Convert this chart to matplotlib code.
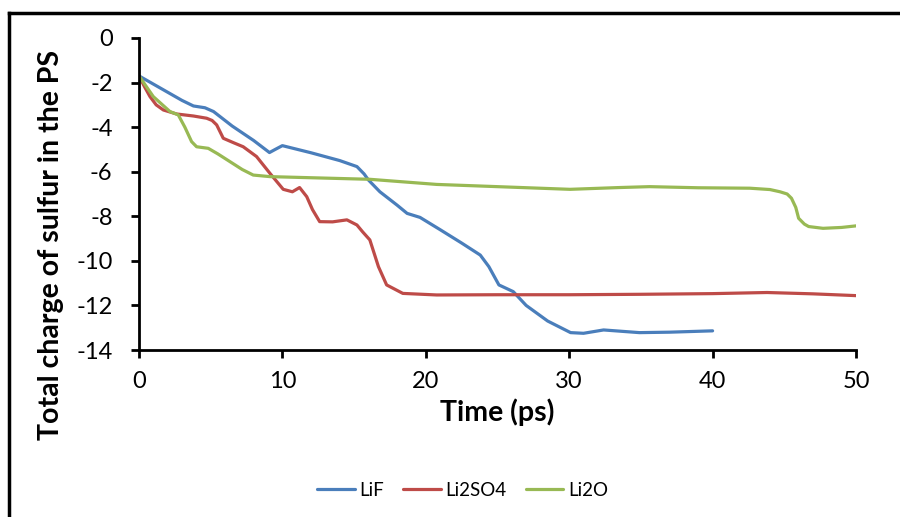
import matplotlib
matplotlib.use('Agg')
import matplotlib.pyplot as plt
from matplotlib.lines import Line2D

# LiF
lif_t = [0, 1.5, 3.0, 3.8, 4.6, 5.2, 6.5, 8.0, 9.1, 9.5, 10.0, 12.0, 14.0, 15.2, 15.7, 16.0,
         16.8, 18.0, 18.7, 19.6, 21.0, 22.5, 23.8, 24.4, 25.1, 26.1, 27.0, 28.5, 30.1, 31.0,
         32.4, 34.9, 37.0, 40.0]
lif_q = [-1.7, -2.25, -2.8, -3.05, -3.13, -3.3, -3.95, -4.6, -5.14, -5.0, -4.83, -5.15, -5.5,
         -5.77, -6.1, -6.37, -6.9, -7.5, -7.87, -8.05, -8.6, -9.2, -9.74, -10.26, -11.08,
         -11.38, -12.0, -12.7, -13.22, -13.25, -13.1, -13.22, -13.2, -13.14]

# Li2SO4
so4_t = [0, 0.4, 0.77, 1.2, 1.7, 2.63, 3.8, 4.72, 5.1, 5.42, 5.88, 6.6, 7.27, 8.2, 9.13,
         10.06, 10.7, 11.2, 11.7, 12.1, 12.6, 13.5, 14.5, 15.2, 15.6, 16.1, 16.7, 17.27,
         18.4, 20.76, 25.0, 30.0, 35.0, 40.0, 43.8, 47.0, 50.0]
so4_q = [-1.7, -2.2, -2.63, -3.0, -3.23, -3.41, -3.5, -3.6, -3.7, -3.9, -4.5, -4.7, -4.88,
         -5.32, -6.07, -6.79, -6.9, -6.71, -7.12, -7.7, -8.24, -8.25, -8.16, -8.39, -8.7,
         -9.06, -10.26, -11.08, -11.46, -11.53, -11.52, -11.52, -11.5, -11.47, -11.42,
         -11.48, -11.56]

# Li2O
li2o_t = [0, 1.0, 2.16, 2.74, 3.2, 3.67, 4.02, 4.83, 5.5, 6.35, 7.2, 7.97, 9.13, 12.0, 16.1,
          20.76, 25.0, 30.06, 33.5, 35.6, 39.0, 42.6, 44.0, 44.7, 45.2, 45.5, 45.8, 46.0,
          46.4, 46.7, 47.7, 49.0, 50.0]
li2o_q = [-1.7, -2.63, -3.3, -3.45, -4.0, -4.65, -4.88, -4.95, -5.2, -5.55, -5.9, -6.15,
          -6.22, -6.27, -6.34, -6.57, -6.67, -6.79, -6.71, -6.67, -6.72, -6.74, -6.8, -6.9,
          -7.0, -7.19, -7.6, -8.09, -8.35, -8.46, -8.54, -8.5, -8.43]

x_ticks = [0, 10, 20, 30, 40, 50]
y_ticks = [0, -2, -4, -6, -8, -10, -12, -14]

plt.rcParams['font.family'] = ['Lato', 'DejaVu Sans']

fig = plt.figure(figsize=(9, 5.17), dpi=100)
ax = fig.add_axes([0.1544, 0.323, 0.7967, 0.6035])

ax.plot(lif_t, lif_q, color='#4A7EBB', lw=2.3, label='LiF', solid_capstyle='round')
ax.plot(so4_t, so4_q, color='#BE4B48', lw=2.3, label='Li2SO4', solid_capstyle='round')
ax.plot(li2o_t, li2o_q, color='#98B954', lw=2.3, label='Li2O', solid_capstyle='round')

ax.set_xlim(0, 50)
ax.set_ylim(-14, 0)
ax.set_xticks(x_ticks)
ax.set_yticks(y_ticks)
ax.set_yticklabels([str(v) for v in y_ticks])
for s in ['top', 'right']:
    ax.spines[s].set_visible(False)
for s in ['left', 'bottom']:
    ax.spines[s].set_linewidth(2)
ax.tick_params(direction='out', length=6, width=2, labelsize=17)
ax.tick_params(axis='y', pad=13)
ax.tick_params(axis='x', pad=9)

ax.set_xlabel('Time (ps)', fontsize=20.5, fontweight='bold', labelpad=5)
ax.set_ylabel('Total charge of sulfur in the PS', fontsize=20.5, fontweight='bold')
# excel places the title lower than the axis centre
ax.yaxis.set_label_coords(-0.104, 0.335)

fig.legend(loc='center', bbox_to_anchor=(0.514, 0.052), ncol=3, frameon=False,
           fontsize=13.5, handlelength=2.0, columnspacing=1.0, handletextpad=0.27)

# outer chart frame (only top and left visible in crop)
fig.add_artist(Line2D([0.0098, 1.0], [0.9755, 0.9755], color='black', lw=2.5,
                      transform=fig.transFigure))
fig.add_artist(Line2D([0.0098, 0.0098], [0.0, 0.9755], color='black', lw=2.5,
                      transform=fig.transFigure))

fig.savefig('out.png', dpi=100)
